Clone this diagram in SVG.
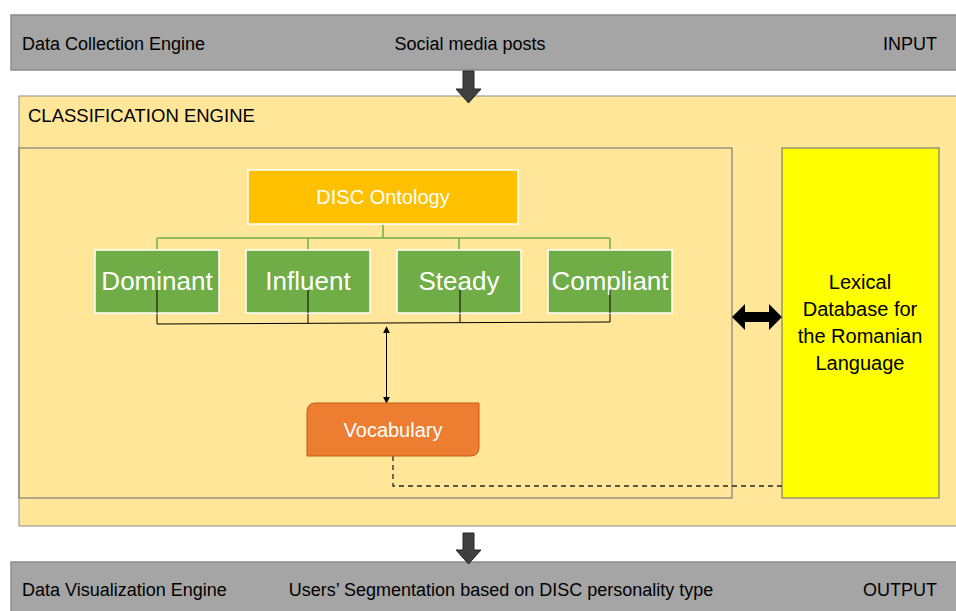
<svg xmlns="http://www.w3.org/2000/svg" width="956" height="611" viewBox="0 0 956 611">
<defs>
<style>
text{font-family:"Liberation Sans",Arial,sans-serif}
.bar{fill:#a5a5a5;stroke:#8c8c8c;stroke-width:1.5}
.bt{font-size:18px;fill:#000}
.grn{fill:#70ad47;stroke:#fff;stroke-width:1.5}
.gt{font-size:26px;fill:#fff;text-anchor:middle}
.wt{font-size:20px;fill:#fff;text-anchor:middle}
.gl{stroke:#70ad47;stroke-width:1.5;fill:none}
.bl{stroke:#000;stroke-width:1;fill:none}
.big{fill:#404040;stroke:#262626;stroke-width:1}
</style>
<marker id="ah" viewBox="0 0 10 10" refX="9" refY="5" markerWidth="7" markerHeight="7" orient="auto-start-reverse" markerUnits="userSpaceOnUse">
<path d="M0,0 L10,5 L0,10 z" fill="#000"/>
</marker>
</defs>
<rect width="956" height="611" fill="#fff"/>
<g id="input-bar">
<rect class="bar" x="11" y="15" width="950" height="55"/>
<text class="bt" x="22" y="50">Data Collection Engine</text>
<text class="bt" x="470" y="50" text-anchor="middle">Social media posts</text>
<text class="bt" x="937" y="50" text-anchor="end">INPUT</text>
</g>
<g id="classification-engine">
<rect x="19" y="96" width="945" height="430" fill="#ffe699" stroke="#8c8c8c" stroke-width="1"/>
<text x="28" y="122" font-size="18.5" fill="#000">CLASSIFICATION ENGINE</text>
<rect x="19" y="148" width="713" height="350" fill="none" stroke="#7f7f7f" stroke-width="1.2"/>
</g>
<g id="lexical-db">
<rect x="782" y="148" width="157" height="350" fill="#ffff00" stroke="#7f7f7f" stroke-width="1.2"/>
<text x="860" y="289" font-size="20" text-anchor="middle" fill="#000">Lexical</text>
<text x="860" y="316" font-size="20" text-anchor="middle" fill="#000">Database for</text>
<text x="860" y="343" font-size="20" text-anchor="middle" fill="#000">the Romanian</text>
<text x="860" y="370" font-size="20" text-anchor="middle" fill="#000">Language</text>
</g>
<g id="output-bar">
<rect class="bar" x="11" y="562" width="950" height="60"/>
<text class="bt" x="22" y="596">Data Visualization Engine</text>
<text class="bt" x="501" y="596" text-anchor="middle">Users’ Segmentation based on DISC personality type</text>
<text class="bt" x="937" y="596" text-anchor="end">OUTPUT</text>
</g>
<g id="connectors">
<path class="big" d="M463,71 L474,71 L474,89 L481,89 L468.5,103 L456,89 L463,89 z"/>
<path class="big" d="M463,533 L474,533 L474,550 L481,550 L468.5,564 L456,550 L463,550 z"/>
<path d="M732,317 L745,304 L745,312 L769,312 L769,304 L782,317 L769,330 L769,322 L745,322 L745,330 z" fill="#000"/>
<path class="gl" d="M383,224 V238 M157,238 H610 M157,238 V250 M308,238 V250 M459,238 V250 M610,238 V250"/>
<path class="bl" d="M157,313 V324 M308,313 V323.5 M460,313 V322.5 M610,313 V322 M157,324 L610,322"/>
<line class="bl" x1="386.5" y1="327" x2="386.5" y2="403" marker-start="url(#ah)" marker-end="url(#ah)"/>
<path d="M393,456 V486 H782" fill="none" stroke="#262626" stroke-width="1.3" stroke-dasharray="5,4"/>
</g>
<g id="disc-ontology">
<rect x="248" y="170" width="270" height="54" fill="#ffc000" stroke="#fff" stroke-width="1.5"/>
<text class="wt" x="383" y="204">DISC Ontology</text>
</g>
<g id="dominant"><rect class="grn" x="95" y="250" width="124" height="63"/><text class="gt" x="157" y="290">Dominant</text></g>
<g id="influent"><rect class="grn" x="246" y="250" width="124" height="63"/><text class="gt" x="308" y="290">Influent</text></g>
<g id="steady"><rect class="grn" x="397" y="250" width="124" height="63"/><text class="gt" x="459" y="290">Steady</text></g>
<g id="compliant"><rect class="grn" x="548" y="250" width="124" height="63"/><text class="gt" x="610" y="290">Compliant</text></g>
<g id="dividers">
<path class="bl" d="M157,290 V313 M308,290 V313 M460,290 V313 M610,290 V313"/>
</g>
<g id="vocabulary">
<path d="M316,403 H479 V447 Q479,456 470,456 H307 V412 Q307,403 316,403 z" fill="#ed7d31" stroke="#c55a11" stroke-width="1"/>
<text class="wt" x="393" y="437">Vocabulary</text>
</g>
</svg>
